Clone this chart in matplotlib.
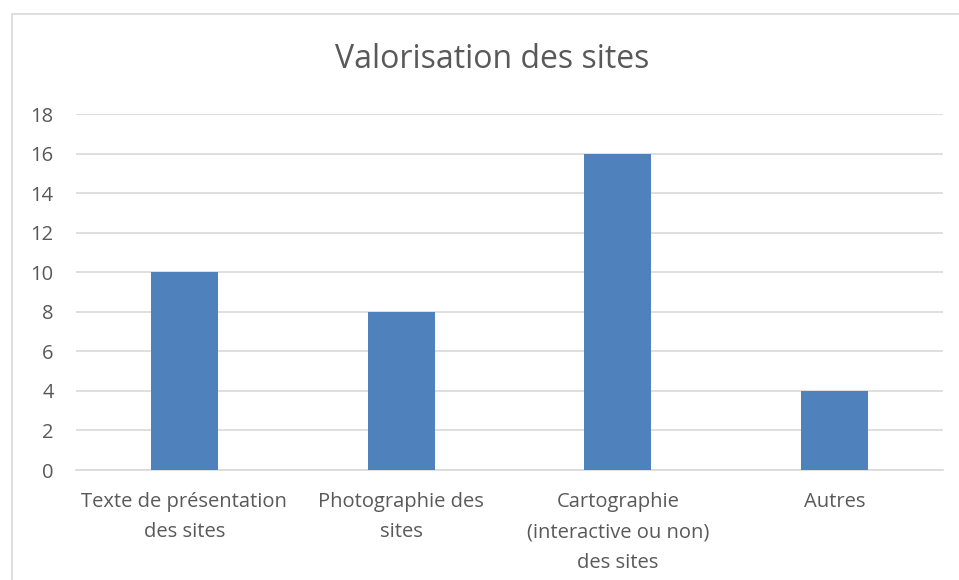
import matplotlib.pyplot as plt
from matplotlib.patches import Rectangle

categories = ["Texte de présentation\ndes sites", "Photographie des\nsites",
              "Cartographie\n(interactive ou non)\ndes sites", "Autres"]
values = [10, 8, 16, 4]
yticks = [0, 2, 4, 6, 8, 10, 12, 14, 16, 18]

plt.rcParams['font.family'] = ['Open Sans', 'DejaVu Sans']
text_color = '#595959'

fig = plt.figure(figsize=(9.59, 5.80), dpi=100)
ax = fig.add_axes([76 / 959, 1 - 470 / 580, (943 - 76) / 959, (470 - 114) / 580])

# chart border, cut off at the right and bottom like the reference
fig.patches.append(Rectangle((12 / 959, -0.1), 1.0, 1.1 - 14 / 580,
                             transform=fig.transFigure, fill=False,
                             edgecolor='#D9D9D9', linewidth=1.2))

ax.bar(range(len(values)), values, width=0.31, color='#4F81BD', zorder=3)
ax.set_xlim(-0.5, len(values) - 0.5)
ax.set_ylim(0, 18)
ax.set_yticks(yticks)
ax.set_xticks(range(len(categories)))
ax.set_xticklabels(categories, linespacing=1.68)
ax.grid(axis='y', color='#D9D9D9', linewidth=1.2, zorder=0)
for side in ['top', 'right', 'left']:
    ax.spines[side].set_visible(False)
ax.spines['bottom'].set_color('#D9D9D9')
ax.spines['bottom'].set_linewidth(1.2)
ax.tick_params(axis='both', length=0, labelsize=14.5, colors=text_color)
ax.tick_params(axis='x', pad=16)
ax.tick_params(axis='y', pad=16)

fig.text(492 / 959, 1 - 60 / 580, "Valorisation des sites", ha='center', va='center',
         fontsize=23, color=text_color)

fig.savefig('out.png', dpi=100)
